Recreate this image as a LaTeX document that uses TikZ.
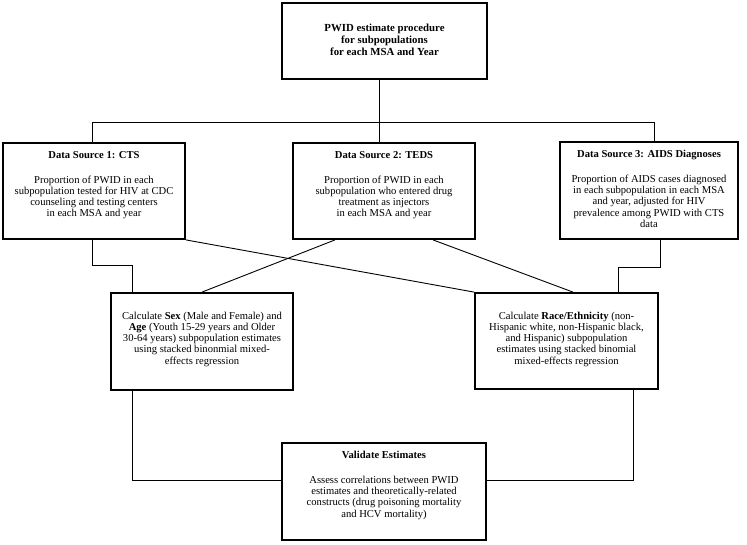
\documentclass[tikz,border=0pt]{standalone}
\usepackage{fontspec}
\setmainfont{Liberation Serif}
\begin{document}
\begin{tikzpicture}[x=1pt,y=-1pt,
  box/.style={draw, line width=1.8pt, inner sep=0pt},
  conn/.style={draw, line width=0.9pt},
  txt/.style={anchor=north, align=center, inner sep=0pt, font=\fontsize{10.6}{11.1}\selectfont},
  ttl/.style={anchor=north, align=center, inner sep=0pt, font=\fontsize{10.8}{12.3}\selectfont\bfseries}]
\useasboundingbox (0,0) rectangle (747,544);
% boxes
\node[box, minimum width=205pt, minimum height=76pt] (top) at (384.5,41) {};
\node[box, minimum width=182pt, minimum height=96pt] (s1) at (94,191) {};
\node[box, minimum width=182pt, minimum height=96pt] (s2) at (384,191) {};
\node[box, minimum width=178pt, minimum height=97pt] (s3) at (649,190.5) {};
\node[box, minimum width=182pt, minimum height=97pt] (c1) at (202,341.5) {};
\node[box, minimum width=183pt, minimum height=96pt] (c2) at (566.5,341) {};
\node[box, minimum width=204pt, minimum height=97pt] (v) at (384,491.5) {};
% texts
\node[ttl] (ttop) at ([yshift=-21.5pt]top.north) {PWID estimate procedure\\for subpopulations\\for each  MSA and Year};
\node[txt] (ts1) at ([yshift=-9pt]s1.north) {\textbf{Data Source 1: CTS}\\[14pt]Proportion of PWID in each\\subpopulation tested for HIV at CDC\\counseling and testing centers\\in each MSA and year};
\node[txt] (ts2) at ([yshift=-9pt]s2.north) {\textbf{Data Source 2: TEDS}\\[14pt]Proportion of PWID in each\\subpopulation who entered drug\\treatment as injectors\\in each MSA and year};
\node[txt] (ts3) at ([yshift=-9pt]s3.north) {\textbf{Data Source 3: AIDS Diagnoses}\\[14pt]Proportion of AIDS cases diagnosed\\in each subpopulation in each MSA\\and year, adjusted for HIV\\prevalence among PWID with CTS\\data};
\node[txt] (tc1) at ([yshift=-20pt]c1.north) {Calculate \textbf{Sex} (Male and Female) and\\\textbf{Age} (Youth 15-29 years and Older\\30-64 years) subpopulation estimates\\using stacked binonmial mixed-\\effects regression};
\node[txt] (tc2) at ([yshift=-20pt]c2.north) {Calculate \textbf{Race/Ethnicity} (non-\\Hispanic white, non-Hispanic black,\\and Hispanic) subpopulation\\estimates using stacked binomial\\mixed-effects regression};
\node[txt] (tv) at ([yshift=-9pt]v.north) {\textbf{Validate Estimates}\\[14pt]Assess correlations between PWID\\estimates and theoretically-related\\constructs (drug poisoning mortality\\and HCV mortality)};
% connectors
\coordinate (jt) at (379,122);
\draw[conn] (top.south -| jt) -- (jt);
\draw[conn] ([xshift=-2pt]s1.north) |- ([xshift=5pt]s3.north |- jt) -- ([xshift=5pt]s3.north);
\draw[conn] (jt) -- (s2.north -| jt);
\draw[conn] ([xshift=-2pt]s1.south) -- ++(0,26) -| ([xshift=-70pt]c1.north);
\draw[conn] ([xshift=11pt]s3.south) -- ++(0,28) -| ([xshift=51.5pt]c2.north);
\draw[conn] (s1.south east) -- (c2.north west);
\draw[conn] ([xshift=-49pt]s2.south) -- (c1.north);
\draw[conn] ([xshift=49pt]s2.south) -- ([xshift=6.5pt]c2.north);
\draw[conn] ([xshift=-70pt]c1.south) |- ([yshift=11.5pt]v.west);
\draw[conn] ([yshift=11.5pt]v.east) -| ([xshift=66.5pt]c2.south);
\end{tikzpicture}
\end{document}
